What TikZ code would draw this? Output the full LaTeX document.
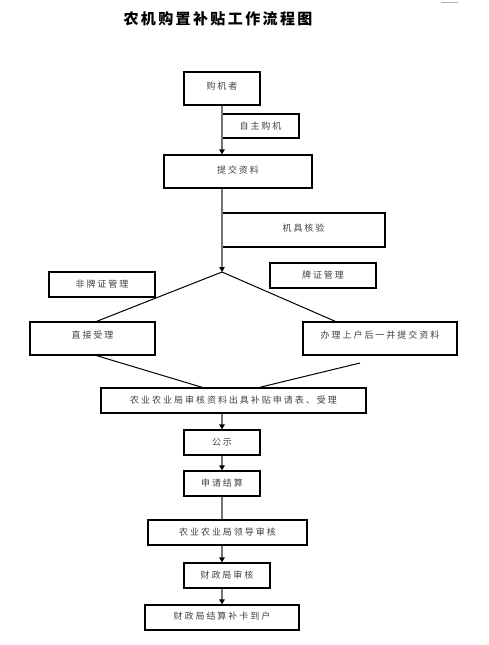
\documentclass[tikz,border=0pt]{standalone}
\usepackage{fontspec}
\newfontfamily\cjkfont{Noto Sans CJK SC}[LetterSpace=22]
\newfontfamily\cjktitle{Noto Sans CJK SC}[LetterSpace=16]
\usetikzlibrary{arrows.meta}

\begin{document}
\begin{tikzpicture}
% Flow chart laid out on a pixel grid
\def\pxsz{1pt}
\providecommand{\flowLineColor}{black!55}
\providecommand{\flowTextColor}{black!75}
\providecommand{\flowBoxLineWidth}{1.2pt}
\providecommand{\flowArrowLineWidth}{1.6pt}
\begin{scope}[x=\pxsz, y=-\pxsz,
  box/.style={draw=black, line width=\flowBoxLineWidth, inner sep=0pt,
    text=\flowTextColor, font=\cjkfont\fontsize{9}{10}\selectfont},
  flow/.style={draw=\flowLineColor, line width=\flowArrowLineWidth,
    -{Triangle[color=black, length=5pt, width=5.5pt]}},
  split/.style={draw=black, line width=1pt}]
  % Page frame
  \useasboundingbox (0,0) rectangle (488,645);
  \draw[black!30, line width=0.8pt] (441,2.5) -- (458,2.5);
  % Title
  \node[font=\cjktitle\bfseries\fontsize{15}{16}\selectfont] (title) at (218,19) {农机购置补贴工作流程图};
  % Upper boxes
  \node[box, minimum width=76pt, minimum height=33pt] (buyer) at (222,88.5) {\raisebox{6pt}{购机者}};
  \node[box, minimum width=77pt, minimum height=24pt] (selfbuy) at (260.5,126) {\raisebox{1.5pt}{自主购机}};
  \node[box, minimum width=148pt, minimum height=33pt] (submit) at (238,171.5) {\raisebox{3.5pt}{提交资料}};
  \node[box, minimum width=163pt, minimum height=34pt] (inspect) at (303.5,230) {\raisebox{4.5pt}{机具核验}};
  % Branch boxes
  \node[box, minimum width=106pt, minimum height=25pt] (nonplate) at (102,284.5) {\raisebox{2pt}{非牌证管理}};
  \node[box, minimum width=106pt, minimum height=25pt] (plate) at (323,275.5) {\raisebox{1.5pt}{牌证管理}};
  \node[box, minimum width=125pt, minimum height=33pt] (direct) at (92.5,338.5) {\raisebox{8pt}{直接受理}};
  \node[box, minimum width=154pt, minimum height=33pt] (handle) at (380,338.5) {\raisebox{8pt}{办理上户后一并提交资料}};
  % Lower boxes
  \node[box, minimum width=265pt, minimum height=25pt] (review) at (233.5,400.5) {\raisebox{1.5pt}{农业农业局审核资料出具补贴申请表、受理}};
  \node[box, minimum width=76pt, minimum height=25pt] (publicity) at (222,442.5) {\raisebox{1.5pt}{公示}};
  \node[box, minimum width=76pt, minimum height=25pt] (settle) at (222,483.5) {\raisebox{1.5pt}{申请结算}};
  \node[box, minimum width=159pt, minimum height=25pt] (leader) at (227.5,532.5) {\raisebox{1.5pt}{农业农业局领导审核}};
  \node[box, minimum width=86pt, minimum height=25pt] (finance) at (227,575.5) {\raisebox{2.5pt}{财政局审核}};
  \node[box, minimum width=154pt, minimum height=25pt] (payout) at (222,617.5) {\raisebox{3pt}{财政局结算补卡到户}};
  % Connectors
  \coordinate (axis) at (222,0);
  \coordinate (fork) at (222,272);
  \coordinate (handlefoot) at (360,363);
  \draw[flow] (buyer.south) -- (buyer.south |- submit.north);
  \draw[flow] (submit.south -| axis) -- (fork);
  \draw[split] (fork) -- ([xshift=4pt]direct.north);
  \draw[split] (fork) -- ([xshift=33pt]handle.north west);
  \draw[split] ([xshift=4pt]direct.south) -- ([xshift=102pt]review.north west);
  \draw[split] (handlefoot) -- ([xshift=159pt]review.north west);
  \draw[flow] (review.south -| axis) -- (publicity.north);
  \draw[flow] (publicity.south) -- (settle.north);
  \draw[draw=\flowLineColor, line width=\flowArrowLineWidth] (settle.south) -- (settle.south |- leader.north);
  \draw[flow] (leader.south -| axis) -- (finance.north -| axis);
  \draw[flow] (finance.south -| axis) -- (payout.north);
\end{scope}
\end{tikzpicture}
\end{document}
